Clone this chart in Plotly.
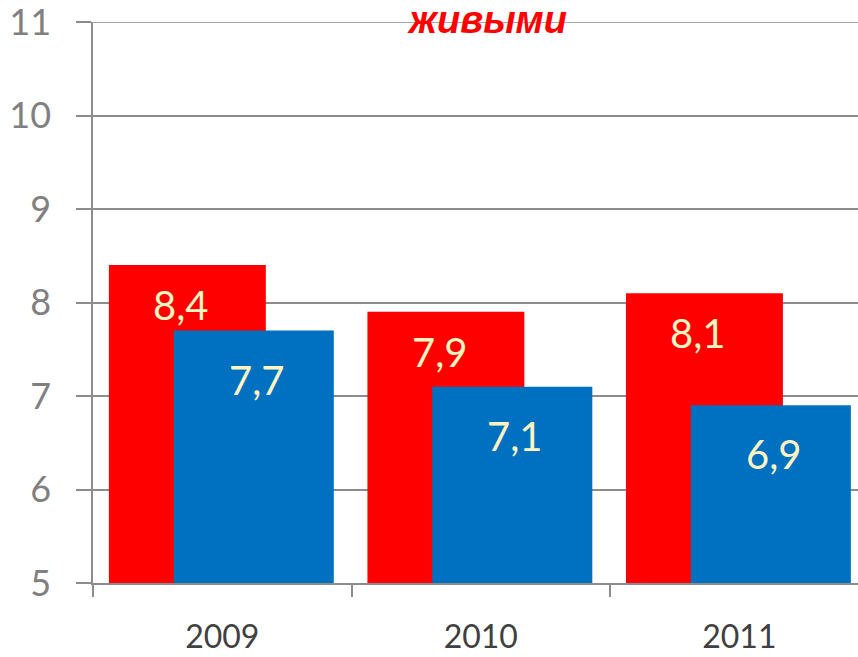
import plotly.graph_objects as go

categories = ["2009", "2010", "2011"]
red_values = [8.4, 7.9, 8.1]
blue_values = [7.7, 7.1, 6.9]
red_labels = ["8,4", "7,9", "8,1"]
blue_labels = ["7,7", "7,1", "6,9"]
y_ticks = [5, 6, 7, 8, 9, 10, 11]
title_text = "живыми"

RED = "#FF0000"
BLUE = "#0070C0"
GRID = "#8C8C8C"
LABEL_COLOR = "#FFF5C0"

red_off, red_w = -0.4385, 0.607
blue_off, blue_w = -0.1876, 0.619

fig = go.Figure()
fig.add_trace(go.Bar(x=categories, y=red_values, marker=dict(color=RED, line=dict(width=0)),
                     offset=red_off, width=red_w, hoverinfo="skip"))
fig.add_trace(go.Bar(x=categories, y=blue_values, marker=dict(color=BLUE, line=dict(width=0)),
                     offset=blue_off, width=blue_w, hoverinfo="skip"))

annotations = [dict(x=0.515, y=1.004, xref="paper", yref="paper", text="<b><i>" + title_text + "</i></b>",
                    showarrow=False, xanchor="center", yanchor="middle",
                    font=dict(family="Liberation Sans", size=38, color=RED))]
for i in range(len(categories)):
    annotations.append(dict(x=i + red_off + red_w / 2 - 0.025, y=red_values[i], xref="x", yref="y",
                            text=red_labels[i], showarrow=False, yshift=-40,
                            font=dict(family="Lato", size=40, color=LABEL_COLOR)))
    annotations.append(dict(x=i + blue_off + blue_w / 2 + 0.01, y=blue_values[i], xref="x", yref="y",
                            text=blue_labels[i], showarrow=False, yshift=-49,
                            font=dict(family="Lato", size=40, color=LABEL_COLOR)))

fig.add_shape(type="line", xref="paper", yref="y", x0=0, x1=1, y0=y_ticks[-1], y1=y_ticks[-1],
              line=dict(color=GRID, width=1.5), layer="above")

fig.update_layout(
    width=858, height=657,
    margin=dict(l=93, r=0, t=22, b=74, autoexpand=False),
    paper_bgcolor="white", plot_bgcolor="white",
    barmode="overlay", showlegend=False,
    annotations=annotations,
    xaxis=dict(type="category", range=[-0.5, 2.459], tickson="boundaries", automargin=False,
               ticks="outside", ticklen=12, tickcolor=GRID, tickwidth=1.5,
               showline=True, linecolor=GRID, linewidth=1.5, showgrid=False,
               tickfont=dict(family="Lato", size=32, color="#404040"), ticklabelstandoff=25),
    yaxis=dict(range=[5, 11.0001], tickvals=y_ticks, ticks="outside", ticklen=15, tickcolor=GRID, tickwidth=1.5,
               automargin=False, ticklabeloverflow="allow",
               showline=True, linecolor=GRID, linewidth=1.5, showgrid=True, gridcolor=GRID, gridwidth=1.5,
               zeroline=False, tickfont=dict(family="Lato", size=36, color="#808080"), ticklabelstandoff=18),
)

fig.write_html("out.html", config={"displayModeBar": False},
               post_script="document.body.style.margin='0';document.body.style.overflow='hidden';")
